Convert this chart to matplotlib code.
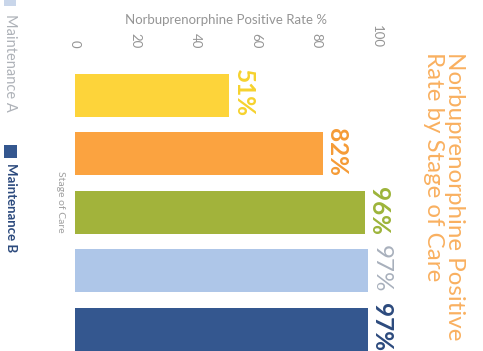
import matplotlib
matplotlib.use("Agg")
import matplotlib.pyplot as plt
from matplotlib.patches import Rectangle

# ---- data ----
stages = ["Stage 1", "Stage 2", "Stage 3", "Maintenance A", "Maintenance B"]
rates = [51, 82, 96, 97, 97]
labels = ["51%", "82%", "96%", "97%", "97%"]
ticks = [0, 20, 40, 60, 80, 100]
tick_labels = ["0", "20", "40", "60", "80", "100"]

bar_colors = ["#fdd43a", "#fba340", "#a2b33b", "#aec6e8", "#34578f"]
label_colors = ["#f6d22e", "#f59b36", "#9db43a", "#a8b0bc", "#2c4a7d"]
label_weights = ["bold", "bold", "bold", "normal", "bold"]

FONT = "Lato"
GRAY = "#959595"

fig = plt.figure(figsize=(4.83, 3.51), dpi=100)
fig.patch.set_facecolor("white")

W, H = 483, 351
left_px, right_px = 75, 377
top_px, bot_px = 66, 358.5
ax = fig.add_axes([left_px / W, 1 - bot_px / H, (right_px - left_px) / W, (bot_px - top_px) / H])

ypos = list(range(len(stages)))
ax.barh(ypos, rates, height=0.73, color=bar_colors, edgecolor="none")
ax.set_xlim(0, 100)
ax.set_ylim(4.5, -0.5)

for y, v, t, c, w in zip(ypos, rates, labels, label_colors, label_weights):
    ax.text(v + 0.8, y - 0.03, t, rotation=270, ha="left", va="center", color=c,
            fontsize=17.5, fontweight=w, family=FONT)

ax.xaxis.tick_top()
ax.xaxis.set_label_position("top")
ax.set_xticks(ticks)
ax.set_xticklabels(tick_labels, rotation=270, color=GRAY, fontsize=9.5, family=FONT)
ax.tick_params(axis="x", length=0, pad=13)
ax.set_yticks([])
ax.set_xlabel("Norbuprenorphine Positive Rate %", color=GRAY, fontsize=9.5, family=FONT,
              labelpad=1)
for s in ax.spines.values():
    s.set_visible(False)
ax.set_facecolor("none")

# axis label for categories
fig.text(60 / W, 1 - 202 / H, "Stage of Care", rotation=270, ha="center", va="center",
         color="#a0a0a0", fontsize=7.5, family=FONT)

# title
fig.text(444 / W, 1 - 52 / H, "Norbuprenorphine Positive\nRate by Stage of Care",
         rotation=270, ha="center", va="top", multialignment="left",
         color="#f9b060", fontsize=17.4, family=FONT, linespacing=1.0)

# legend (rotated)
fig.patches.append(Rectangle((4 / W, 1 - 6 / H), 12 / W, 12 / H, transform=fig.transFigure,
                             facecolor="#c9d6ea", edgecolor="none"))
fig.text(10 / W, 1 - 14 / H, "Maintenance A", rotation=270, ha="center", va="top",
         color="#aeb2b8", fontsize=10.5, family=FONT)
fig.patches.append(Rectangle((4 / W, 1 - 158 / H), 13 / W, 13 / H, transform=fig.transFigure,
                             facecolor="#34578f", edgecolor="none"))
fig.text(11 / W, 1 - 163 / H, "Maintenance B", rotation=270, ha="center", va="top",
         color="#2c4a7d", fontsize=9.5, family=FONT, fontweight="bold")

fig.savefig("out.png", dpi=100, facecolor="white")
